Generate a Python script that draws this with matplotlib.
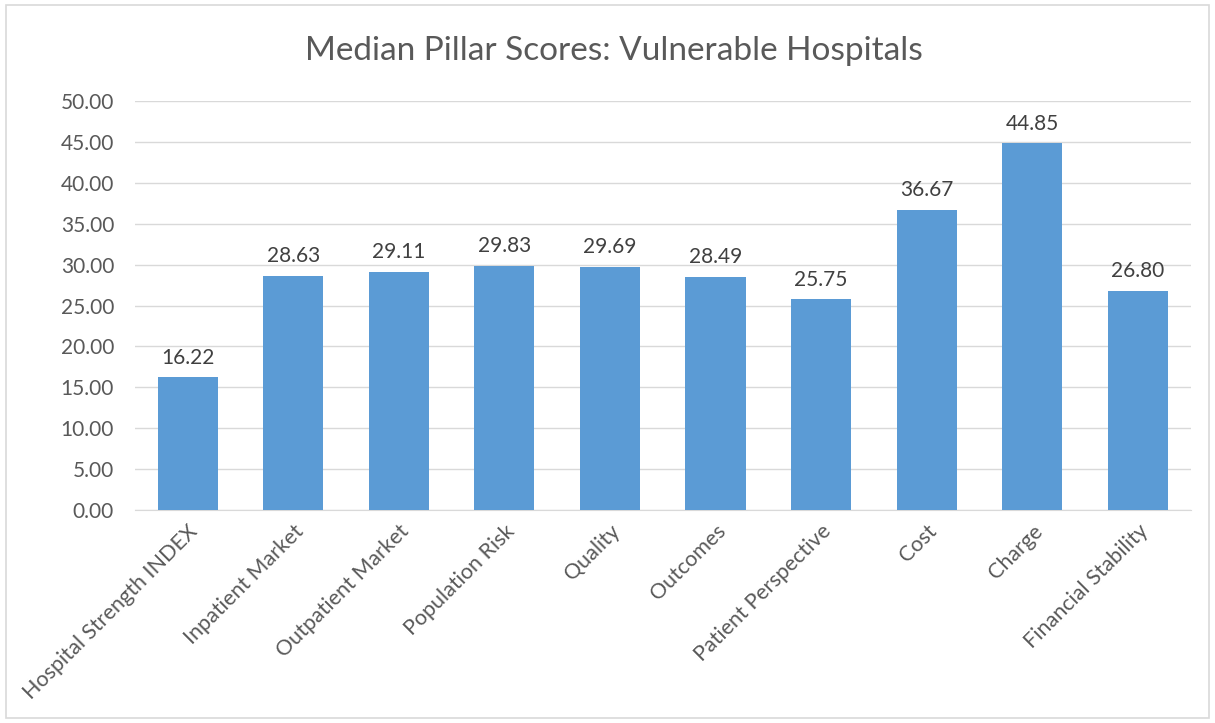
import matplotlib
matplotlib.use("Agg")
import matplotlib.pyplot as plt
from matplotlib.patches import Rectangle

categories = ["Hospital Strength INDEX", "Inpatient Market", "Outpatient Market",
              "Population Risk", "Quality", "Outcomes", "Patient Perspective",
              "Cost", "Charge", "Financial Stability"]
scores = [16.22, 28.63, 29.11, 29.83, 29.69, 28.49, 25.75, 36.67, 44.85, 26.80]
y_ticks = [0, 5, 10, 15, 20, 25, 30, 35, 40, 45, 50]

plt.rcParams['font.family'] = ['Lato', 'DejaVu Sans']
TEXT = "#595959"
BAR = "#5B9BD5"

fig = plt.figure(figsize=(12.15, 7.23), dpi=100)
fig.patches.append(Rectangle((0.005, 0.007), 0.99, 0.986, transform=fig.transFigure,
                             fill=False, edgecolor="#D9D9D9", linewidth=1.2))

ax = fig.add_axes([0.111, 0.2946, 0.869, 0.5654])
x = range(len(categories))
bars = ax.bar(x, scores, width=0.57, color=BAR, zorder=3)

for xi, v in zip(x, scores):
    ax.text(xi, v + 1.2, f"{v:.2f}", ha="center", va="bottom", fontsize=15, color="#404040")

ax.set_xlim(-0.5, len(categories) - 0.5)
ax.set_ylim(0, 50)
ax.set_yticks(y_ticks)
ax.set_yticklabels([f"{t:.2f}" for t in y_ticks], fontsize=15, color=TEXT)
ax.set_xticks(list(x))
ax.set_xticklabels(categories, rotation=45, ha="right", rotation_mode="anchor",
                   fontsize=15.5, color=TEXT)
ax.tick_params(axis="both", length=0, pad=8)
ax.tick_params(axis="y", pad=15)
ax.grid(axis="y", color="#D9D9D9", linewidth=1, zorder=0)
for s in ["top", "right", "left"]:
    ax.spines[s].set_visible(False)
ax.spines["bottom"].set_color("#D9D9D9")

fig.text(0.505, 0.93, "Median Pillar Scores: Vulnerable Hospitals", ha="center", va="center",
         fontsize=24, color=TEXT)

fig.savefig("out.png", dpi=100)
